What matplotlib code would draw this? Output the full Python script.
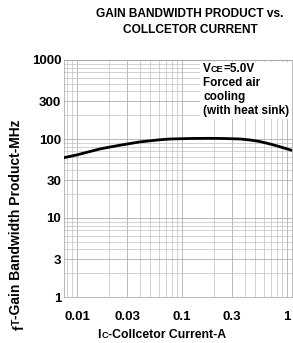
import matplotlib

matplotlib.use("Agg")

import matplotlib.pyplot as plt
from matplotlib.ticker import FixedLocator, LogLocator, NullFormatter

# collector current (A) vs gain bandwidth product (MHz)
ic_amps = [0.0075, 0.01, 0.0166, 0.025, 0.04, 0.06, 0.077, 0.12, 0.18, 0.25,
           0.36, 0.45, 0.55, 0.68, 0.80, 1.11]
ft_mhz = [58, 63, 75, 83, 92, 97.5, 100, 101.5, 102, 101.5,
          100, 97, 93, 87, 82, 72]

x_ticks = [0.01, 0.03, 0.1, 0.3, 1]
x_tick_labels = ["0.01", "0.03", "0.1", "0.3", "1"]
y_ticks = [1, 3, 10, 30, 100, 300, 1000]
y_tick_labels = ["1", "3", "10", "30", "100", "300", "1000"]

W, H = 293, 343
font = "Liberation Sans"

fig = plt.figure(figsize=(W / 100, H / 100), dpi=100)
ax = fig.add_axes([64 / W, 1 - 297 / H, (292 - 64) / W, (297 - 60) / H])

ax.plot(ic_amps, ft_mhz, color="black", linewidth=2.0, zorder=3)
ax.set_xscale("log")
ax.set_yscale("log")
ax.set_xlim(0.0075, 1.12)
ax.set_ylim(1, 1000)

ax.xaxis.set_major_locator(FixedLocator(x_ticks))
ax.yaxis.set_major_locator(FixedLocator(y_ticks))
ax.xaxis.set_minor_locator(LogLocator(base=10, subs=range(1, 10)))
ax.yaxis.set_minor_locator(LogLocator(base=10, subs=range(1, 10)))
ax.xaxis.set_minor_formatter(NullFormatter())
ax.yaxis.set_minor_formatter(NullFormatter())
ax.set_xticklabels(x_tick_labels, fontfamily=font, fontweight="bold", fontsize=9.5)
ax.set_yticklabels(y_tick_labels, fontfamily=font, fontweight="bold", fontsize=9.5)
ax.tick_params(which="both", length=0)
ax.tick_params(axis="x", pad=10)
ax.tick_params(axis="y", pad=2)

ax.grid(which="major", color="#a0a0a0", linewidth=0.5)
ax.grid(which="minor", color="#c0c0c0", linewidth=0.5)
for spine in ax.spines.values():
    spine.set_color("#a0a0a0")
    spine.set_linewidth(0.5)

# note with white background
ax.add_patch(plt.Rectangle((200 / W, 1 - 119 / H), 92 / W, 57 / H,
                           transform=fig.transFigure, facecolor="white",
                           edgecolor="none", zorder=2))
tkw = dict(fontfamily=font, fontweight="bold", color="black", zorder=4)
v = fig.text(203 / W, 1 - 69 / H, "V", fontsize=8.5, va="center", **tkw)
ce = ax.annotate("CE", xy=(1, 0), xycoords=v, xytext=(0, 0.9),
                 textcoords="offset points", va="bottom", fontsize=6.5, **tkw)
ax.annotate("=5.0V", xy=(1, 0), xycoords=ce, xytext=(0, -0.9),
            textcoords="offset points", va="bottom", fontsize=8.5, **tkw)
for i, line in enumerate(["Forced air", "cooling", "(with heat sink)"]):
    fig.text(203 / W, 1 - (83 + 14 * i) / H, line, fontsize=8.5, va="center", **tkw)

# title
fig.text(190 / W, 1 - 22 / H, "GAIN BANDWIDTH PRODUCT vs.\nCOLLCETOR CURRENT",
         ha="center", va="center", fontsize=8.6, linespacing=1.4,
         fontfamily=font, fontweight="bold")

# x label: I + small C
i_txt = fig.text(97 / W, 1 - 335 / H, "I", fontsize=8.8, va="center",
                 fontfamily=font, fontweight="bold")
c_txt = ax.annotate("C", xy=(1, 0), xycoords=i_txt, xytext=(0.5, 0.9),
                    textcoords="offset points", va="bottom", fontsize=6.5,
                    fontfamily=font, fontweight="bold")
ax.annotate("-Collcetor Current-A", xy=(1, 0), xycoords=c_txt, xytext=(0, -0.9),
            textcoords="offset points", va="bottom", fontsize=8.8,
            fontfamily=font, fontweight="bold")

# y label: f + small T
f_txt = fig.text(20 / W, 1 - 330 / H, "f", fontsize=10, rotation=90,
                 ha="center", va="bottom", fontfamily=font, fontweight="bold")
t_txt = ax.annotate("T", xy=(0, 1), xycoords=f_txt, xytext=(-0.9, 0),
                    textcoords="offset points", rotation=90, ha="left",
                    va="bottom", fontsize=7.5, fontfamily=font, fontweight="bold")
ax.annotate("-Gain Bandwidth Product-MHz", xy=(1, 1), xycoords=t_txt,
            xytext=(0.9, 0), textcoords="offset points",
            rotation=90, ha="right", va="bottom", fontsize=10,
            fontfamily=font, fontweight="bold")

fig.savefig("out.png", dpi=100)
plt.close(fig)
